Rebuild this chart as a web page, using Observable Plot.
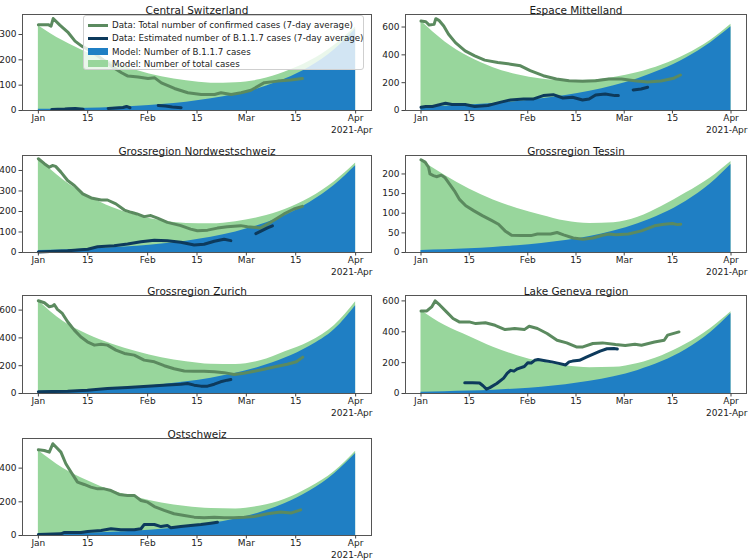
<!DOCTYPE html>
<html><head><meta charset="utf-8">
<script src="https://cdn.jsdelivr.net/npm/d3@7"></script>
<script src="https://cdn.jsdelivr.net/npm/@observablehq/plot@0.6"></script>
<style>
body{margin:0;background:#fff;font-family:"DejaVu Sans",sans-serif;}
#root{position:relative;width:752px;height:560px;overflow:hidden;background:#fff;}
.legend{position:absolute;left:83px;top:15px;width:281px;height:55px;background:rgba(255,255,255,0.8);border:1px solid #cfcfcf;border-radius:3px;box-sizing:border-box;font-size:8.7px;color:#222;}
.legend .row{position:absolute;left:0;height:12px;width:100%;}
.legend .sw{position:absolute;left:4px;width:20px;}
.legend .lab{position:absolute;left:28px;top:0;line-height:12px;white-space:nowrap;}
</style></head><body><div id="root"></div><script>
// ---- shared axes data ----
const modelDays = [0,7,14,21,28,35,42,49,56,63,70,77,84,90];
const xTickDays = [0,14,31,45,59,73,90];
const xTickLabels = ["Jan","15","Feb","15","Mar","15","Apr"];
const offsetLabel = "2021-Apr";
const legendLabels = [
  "Data: Total number of confirmed cases (7-day average)",
  "Data: Estimated number of B.1.1.7 cases (7-day average)",
  "Model: Number of B.1.1.7 cases",
  "Model: Number of total cases"
];

// ---- Central Switzerland ----
const centralModelTotal = [335,275,228,190,158,133,117,108,110,122,152,195,258,330];
const centralModelB117 = [4.5,6.3,8.8,12.3,17,24,33,46,64,89,124,172,240,322];
const centralDays = [0,2.8,3.6,4.2,6.1,8.5,10.4,12.3,14.1,17,18.9,20.7,23.6,25.4,28.3,31.1,33,34.9,38.6,42.4,46.2,50,51.8,54.7,57.5,60.3,64.1,67.9,71.6,74.9];
const centralTotal = [339,339,333,363,337,307,274,254,241,214,195,175,149,136,132,126,129,109,87,70,63,63,70,63,70,80,110,116,120,126];
const centralB117Days = [3.8,5.5,7.5,8.5,10.5,12.7,16,19.8,22,24,25,26,30,34,36,38,40.5];
const centralB117 = [4,5,6,7,8,5,null,8,10,12,16,11,null,20,18,14,11];

// ---- Espace Mittelland ----
const mittModelTotal = [643,493,384,308,257,227,215,218,237,273,327,403,504,620];
const mittModelB117 = [24,31,40,51,65,84,108,139,178,229,294,378,486,602];
const mittDays = [0,1.4,2.4,3.8,4.3,5.2,6.6,8,10,12.8,15.6,18.5,22.3,26,28.9,31.7,35.5,39.3,43,46.9,50.7,54.5,58.2,62,65.8,69.6,73.4,75.3];
const mittTotal = [643,638,614,619,660,648,607,548,488,429,393,362,345,333,321,286,250,226,214,210,214,226,226,214,205,212,232,255];
const mittB117Days = [0,1.4,3.3,7.1,9,12.8,15.6,19.4,23.2,26,29.8,32.7,35.5,38.4,41.2,44,46.9,48.8,50.7,53.5,56.3,57.3,59.5,61.6,63.9,65.8];
const mittB117 = [24,29,29,52,43,43,29,36,60,76,83,83,107,114,90,95,76,83,112,119,107,107,null,148,155,167];

// ---- Grossregion Nordwestschweiz ----
const nwModelTotal = [459,355,277,220,181,155,142,140,150,173,210,266,345,436];
const nwModelB117 = [9.3,12.5,16.8,22.7,30.5,41,55,74,100,135,181,244,328,423];
const nwDays = [0,1.7,3.1,4,4.9,6.4,8.3,10.2,12.6,15,17.8,19.6,22,24.4,26.3,28,30,31.9,33.8,36.6,40.4,43.2,45.1,48,50.8,53.6,57.4,59.3,63.1,65.9,69.7,72.5,74.9];
const nwTotal = [457,433,416,424,420,392,351,327,286,266,256,256,237,207,196,188,175,180,168,147,131,114,106,109,119,126,131,126,120,147,188,212,225];
const nwB117Days = [0,8.3,14,16.8,21.5,25.3,29.1,32.9,36.6,40.4,44.2,47,49.9,52.7,54.6,58,61.7,65,66.4];
const nwB117 = [3,8,16,28,33,41,52,60,57,50,37,40,55,65,58,null,92,120,130];

// ---- Grossregion Tessin ----
const tessModelTotal = [234,196,162,134,112,95,80,74,76,90,118,152,190,232];
const tessModelB117 = [5.4,7.2,9.6,12.9,17.2,23,30.7,41,54.8,73.2,97.8,130.7,174.6,224];
const tessDays = [0,1.2,2.2,2.6,3.6,4.5,5.9,6.9,8.3,9.7,11.1,13,15.4,17.8,20.6,22.5,24.4,26.3,29.1,31.9,33.8,37.6,39.5,41.4,44.2,47,49.9,52.7,54.6,56.5,60.2,64,67.8,70.6,73,74.4,75.4];
const tessTotal = [236,230,217,200,196,193,197,191,174,157,136,119,106,94,81,72,55,44,43,43,47,47,51,45,37,34,37,44,47,45,47,55,68,72,74,71,72];

// ---- Grossregion Zurich ----
const zhModelTotal = [667,520,425,355,300,258,228,210,208,235,300,372,490,660];
const zhModelB117 = [14.4,19.3,25.9,34.8,46.7,62.7,84,110,145,192,255,340,460,632];
const zhDays = [0,1.7,3.1,4,4.5,5.4,6.8,8.3,10.2,12,13.9,15.9,17.8,19.6,22,24.4,27.2,30,32.9,35.7,38.5,41.4,44.2,47,49.9,52.7,55.5,58.3,61.2,64,66.8,70.6,73.2,75];
const zhTotal = [667,653,624,629,640,605,576,516,456,408,372,348,355,348,312,288,276,240,228,200,178,162,160,160,156,150,137,145,160,175,190,210,228,262];
const zhB117Days = [0,8.3,13.9,19.6,25.3,31,36.6,40.4,42.3,44.2,46.1,48,49.9,51.7,53.6,54.6];
const zhB117 = [12,17,24,36,43,53,62,67,72,60,53,53,67,84,96,101];

// ---- Lake Geneva region ----
const genModelTotal = [540,440,370,300,245,205,180,167,170,195,245,320,420,530];
const genModelB117 = [8.25,11.4,15.7,21.7,29.9,41.3,57,78.6,108.5,149.7,206.6,285,393.5,518.6];
const genDays = [0,1.7,3.1,4.1,5.5,7.4,9.3,11.1,14,15.9,18.7,21.5,24.4,27.2,30,31.4,33.8,36.6,39.5,42.3,45.1,47,49.9,52.7,56.5,59.3,62.1,64,67.8,70.6,71.6,74.9];
const genTotal = [535,535,561,600,572,529,486,464,464,453,458,442,414,421,414,436,421,389,345,328,302,302,324,328,317,311,319,313,334,345,378,399];
const genB117Days = [12.7,15,17,18,19,20,22,24,25,26,27,28,30,31,32,33,34,36,38,40,42,43,44,46,48,50,52,54,56,57];
const genB117 = [70,70,68,50,28,38,65,100,130,150,145,160,175,200,198,215,220,212,205,195,185,205,210,215,235,255,275,290,292,288];

// ---- Ostschweiz ----
const ostModelTotal = [505,400,325,265,225,193,172,160,158,175,215,285,380,500];
const ostModelB117 = [7.06,9.8,13.6,18.9,26.3,36.6,50.9,70.7,98.3,136.6,190,264,367,486.6];
const ostDays = [0,1.7,3.1,4.1,5,6.4,7.8,9.3,11.1,13,14.9,16.8,18.7,20.6,22.9,25.3,27.2,29.1,31,32.9,35.7,38.5,41.4,44.2,47,49.9,52.7,55.5,58.4,61.2,65,68.7,71.6,74.4];
const ostTotal = [509,505,495,545,525,495,426,376,317,303,287,277,277,267,244,238,238,208,198,172,149,129,119,109,105,108,105,105,108,113,129,139,133,152];
const ostB117Days = [0,6.4,7.4,12.1,14,17.8,20.6,23.4,27.2,29.1,30,32.9,34.8,36.6,37.6,40.4,43.2,46.1,48.9,50.8];
const ostB117 = [6,10,18,18,24,30,40,34,34,40,65,65,53,59,46,53,59,65,73,79];

// ---- styling ----
const GREEN_FILL = "#98d69c";
const BLUE_FILL = "#1f7fc4";
const GREEN_LINE = "#5b8a5f";
const BLUE_LINE = "#0d3a5c";

const day0 = Date.UTC(2021,0,1);
const toDate = d => new Date(day0 + d*86400000);
const xDomain = [toDate(-4.5), toDate(94.5)];
const labelByTime = new Map(xTickDays.map((d,i)=>[+toDate(d), xTickLabels[i]]));
const zip = (days, vals) => days.map((d,i)=>({date: toDate(d), v: vals[i]}));

const root = document.getElementById("root");

function drawPanel(p){
  const mt = 16, mb = 28;
  const frameH = p.bottom - p.top;
  const marks = [
    Plot.areaY(zip(modelDays, p.modelTotal), {x:"date", y:"v", fill:GREEN_FILL, curve:"monotone-x"}),
    Plot.areaY(zip(modelDays, p.modelB117), {x:"date", y:"v", fill:BLUE_FILL, curve:"monotone-x"}),
    Plot.line(zip(p.days, p.total), {x:"date", y:"v", stroke:GREEN_LINE, strokeWidth:3, strokeLinejoin:"round"})
  ];
  if (p.b117Days) marks.push(Plot.line(zip(p.b117Days, p.b117), {x:"date", y:"v", stroke:BLUE_LINE, strokeWidth:3, strokeLinejoin:"round"}));
  marks.push(
    Plot.frame({stroke:"#555", strokeWidth:1}),
    Plot.axisX(xTickDays.map(toDate), {tickFormat: d => labelByTime.get(+d), tickSize:3.5, tickPadding:1, label:null, stroke:"#444"}),
    Plot.axisY(p.yTicks, {tickSize:3.5, tickPadding:2.5, label:null, stroke:"#444"}),
    Plot.text([p.title], {text: d => d, frameAnchor:"top", dy:-8, fontSize:10.5, fill:"#1a1a1a"}),
    Plot.text([offsetLabel], {text: d => d, frameAnchor:"bottom-right", textAnchor:"end", dy:22, dx:1, fill:"#222"})
  );
  const svg = Plot.plot({
    width: 376, height: mt + frameH + mb,
    marginTop: mt, marginBottom: mb, marginLeft: p.ml, marginRight: p.mr,
    x: {type:"utc", domain: xDomain},
    y: {domain: [0, p.yMax]},
    style: {fontFamily:"'DejaVu Sans', sans-serif", fontSize:"9px", color:"#222", background:"transparent", overflow:"visible"},
    marks
  });
  svg.style.position = "absolute";
  svg.style.left = p.left + "px";
  svg.style.top = (p.top - mt) + "px";
  root.appendChild(svg);
}

const L = {left:0, ml:22, mr:5};
const R = {left:376, ml:29, mr:6};

drawPanel({...L, top:13.5, bottom:109.5, title:"Central Switzerland", yMax:379, yTicks:[0,100,200,300],
  modelTotal:centralModelTotal, modelB117:centralModelB117, days:centralDays, total:centralTotal, b117Days:centralB117Days, b117:centralB117});
drawPanel({...R, top:13.5, bottom:109.5, title:"Espace Mittelland", yMax:690, yTicks:[0,200,400,600],
  modelTotal:mittModelTotal, modelB117:mittModelB117, days:mittDays, total:mittTotal, b117Days:mittB117Days, b117:mittB117});
drawPanel({...L, top:155, bottom:252, title:"Grossregion Nordwestschweiz", yMax:473, yTicks:[0,100,200,300,400],
  modelTotal:nwModelTotal, modelB117:nwModelB117, days:nwDays, total:nwTotal, b117Days:nwB117Days, b117:nwB117});
drawPanel({...R, top:155, bottom:252, title:"Grossregion Tessin", yMax:247, yTicks:[0,50,100,150,200],
  modelTotal:tessModelTotal, modelB117:tessModelB117, days:tessDays, total:tessTotal});
drawPanel({...L, top:295, bottom:393, title:"Grossregion Zurich", yMax:705, yTicks:[0,200,400,600],
  modelTotal:zhModelTotal, modelB117:zhModelB117, days:zhDays, total:zhTotal, b117Days:zhB117Days, b117:zhB117});
drawPanel({...R, top:295, bottom:393, title:"Lake Geneva region", yMax:635, yTicks:[0,200,400,600],
  modelTotal:genModelTotal, modelB117:genModelB117, days:genDays, total:genTotal, b117Days:genB117Days, b117:genB117});
drawPanel({...L, top:438, bottom:535, title:"Ostschweiz", yMax:576, yTicks:[0,200,400],
  modelTotal:ostModelTotal, modelB117:ostModelB117, days:ostDays, total:ostTotal, b117Days:ostB117Days, b117:ostB117});

// ---- legend (Central Switzerland panel) ----
const legend = document.createElement("div");
legend.className = "legend";
const swatches = [
  {h:3, c:GREEN_LINE}, {h:3, c:BLUE_LINE}, {h:7, c:BLUE_FILL}, {h:7, c:GREEN_FILL}
];
const rowTops = [3, 16, 29.5, 41.5];
legendLabels.forEach((lab, i) => {
  const row = document.createElement("div");
  row.className = "row";
  row.style.top = rowTops[i] + "px";
  const sw = document.createElement("div");
  sw.className = "sw";
  sw.style.height = swatches[i].h + "px";
  sw.style.top = (6 - swatches[i].h/2) + "px";
  sw.style.background = swatches[i].c;
  const t = document.createElement("div");
  t.className = "lab";
  t.textContent = lab;
  row.appendChild(sw); row.appendChild(t);
  legend.appendChild(row);
});
root.appendChild(legend);
</script></body></html>
